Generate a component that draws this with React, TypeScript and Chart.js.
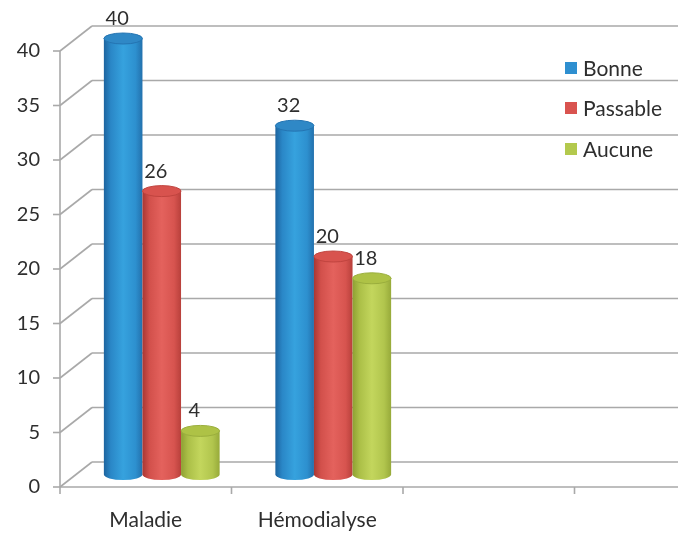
import React, { useEffect, useRef } from 'react';
import { Chart, registerables } from 'chart.js';

Chart.register(...registerables);

// ---- data ----
const categories = ['Maladie', 'Hémodialyse', '', ''];
const seriesNames = ['Bonne', 'Passable', 'Aucune'];
const bonne = [40, 32, null, null];
const passable = [26, 20, null, null];
const aucune = [4, 18, null, null];
const yTickValues = [0, 5, 10, 15, 20, 25, 30, 35, 40];

// ---- styling ----
const legendColors = ['#2e8fd0', '#d9534f', '#b3c94d'];
const cylinderStops = [
  ['#1d649f', '#2a87c7', '#36a2de', '#2d90cf', '#2371ad'],
  ['#a93733', '#d2504b', '#e4625d', '#d7544f', '#b8403b'],
  ['#8ea033', '#abbf47', '#c3d65d', '#b1c54d', '#97aa3a'],
];
const topColors = ['#2f88c6', '#d8534e', '#aec246'];
const rimColors = ['#2474b2', '#c0443f', '#9aae3d'];
const GRID = '#a9a9a9';
const TEXT = '#2e2e2e';
const FONT = 'Lato, "Liberation Sans", sans-serif';
const DX = 32;
const DY = -25;

function line(ctx: CanvasRenderingContext2D, x1: number, y1: number, x2: number, y2: number) {
  ctx.beginPath();
  ctx.moveTo(x1, y1);
  ctx.lineTo(x2, y2);
  ctx.stroke();
}

function drawCylinder(ctx: CanvasRenderingContext2D, cx: number, top: number, bottom: number, w: number, idx: number) {
  const rx = w / 2;
  const ry = 5.5;
  const left = cx - rx;
  const right = cx + rx;
  const g = ctx.createLinearGradient(left, 0, right, 0);
  const st = cylinderStops[idx];
  g.addColorStop(0, st[0]);
  g.addColorStop(0.18, st[1]);
  g.addColorStop(0.5, st[2]);
  g.addColorStop(0.82, st[3]);
  g.addColorStop(1, st[4]);
  ctx.beginPath();
  ctx.moveTo(left, top);
  ctx.lineTo(left, bottom);
  ctx.ellipse(cx, bottom, rx, ry, 0, Math.PI, 0, true);
  ctx.lineTo(right, top);
  ctx.closePath();
  ctx.fillStyle = g;
  ctx.fill();
  ctx.beginPath();
  ctx.ellipse(cx, top, rx, ry, 0, 0, Math.PI * 2);
  ctx.fillStyle = topColors[idx];
  ctx.fill();
  ctx.lineWidth = 1;
  ctx.strokeStyle = rimColors[idx];
  ctx.stroke();
}

const threeD = {
  id: 'threeD',
  beforeDatasetsDraw(chart: any) {
    const { ctx, chartArea, scales } = chart;
    const x = scales.x;
    const y = scales.y;
    const L = chartArea.left;
    const R = chartArea.right;
    ctx.save();
    ctx.strokeStyle = GRID;
    ctx.lineWidth = 1.6;
    for (const v of yTickValues) {
      const fy = y.getPixelForValue(v);
      line(ctx, L - 7, fy, L, fy);
      line(ctx, L, fy, L + DX, fy + DY);
      line(ctx, L + DX, fy + DY, R + DX, fy + DY);
    }
    const y0 = y.getPixelForValue(0);
    const yTop = y.getPixelForValue(40);
    line(ctx, L, yTop, L, y0);
    line(ctx, L, y0, R, y0);
    const n = categories.length;
    const w = x.getPixelForTick(1) - x.getPixelForTick(0);
    for (let i = 0; i <= n; i++) {
      const bx = x.getPixelForTick(0) - w / 2 + i * w;
      line(ctx, bx, y0, bx, y0 + 7);
    }
    ctx.restore();
  },
  afterDatasetsDraw(chart: any) {
    const { ctx } = chart;
    ctx.save();
    const n = categories.length;
    for (let c = 0; c < n; c++) {
      chart.data.datasets.forEach((ds: any, di: number) => {
        const v = ds.data[c];
        if (v === null || v === undefined) return;
        const el = chart.getDatasetMeta(di).data[c];
        const cx = el.x + DX / 2;
        const top = el.y + DY / 2;
        const bottom = el.base + DY / 2;
        drawCylinder(ctx, cx, top, bottom, el.width, di);
        ctx.fillStyle = TEXT;
        ctx.font = `20px ${FONT}`;
        ctx.textAlign = 'center';
        ctx.textBaseline = 'middle';
        ctx.fillText(String(v), cx - 6, top - 20);
      });
    }
    const ly = [68, 108, 149];
    seriesNames.forEach((name, i) => {
      ctx.fillStyle = legendColors[i];
      ctx.fillRect(565, ly[i] - 6, 12, 12);
      ctx.fillStyle = TEXT;
      ctx.font = `21px ${FONT}`;
      ctx.textAlign = 'left';
      ctx.textBaseline = 'middle';
      ctx.fillText(name, 583, ly[i] + 1);
    });
    ctx.restore();
  },
};

export default function App() {
  const ref = useRef<HTMLCanvasElement>(null);
  useEffect(() => {
    document.body.style.margin = '0';
    const canvas = ref.current!;
    const chart = new Chart(canvas, {
      type: 'bar',
      data: {
        labels: categories,
        datasets: [
          { label: seriesNames[0], data: bonne, backgroundColor: 'rgba(0,0,0,0)', borderWidth: 0 },
          { label: seriesNames[1], data: passable, backgroundColor: 'rgba(0,0,0,0)', borderWidth: 0 },
          { label: seriesNames[2], data: aucune, backgroundColor: 'rgba(0,0,0,0)', borderWidth: 0 },
        ],
      },
      options: {
        responsive: false,
        animation: false,
        devicePixelRatio: 1,
        categoryPercentage: 0.675,
        barPercentage: 1,
        layout: { padding: { top: 51, right: 34, left: 0, bottom: 0 } },
        plugins: { legend: { display: false }, tooltip: { enabled: false } },
        scales: {
          x: {
            grid: { display: false, drawTicks: false },
            border: { display: false },
            ticks: { autoSkip: false, maxRotation: 0, padding: 21, color: TEXT, font: { family: FONT, size: 21 } },
            afterFit(s: any) { s.height = 46; },
          },
          y: {
            min: 0,
            max: 40,
            grid: { display: false, drawTicks: false },
            border: { display: false },
            ticks: { stepSize: 5, padding: 20, color: TEXT, font: { family: FONT, size: 20 } },
            afterFit(s: any) { s.width = 60; },
          },
        },
      } as any,
      plugins: [threeD],
    });
    return () => chart.destroy();
  }, []);
  return (
    <div style={{ width: 678, height: 533, overflow: 'hidden', position: 'relative', background: '#fff' }}>
      <canvas ref={ref} width={780} height={533} style={{ width: 780, height: 533, display: 'block' }} />
    </div>
  );
}
